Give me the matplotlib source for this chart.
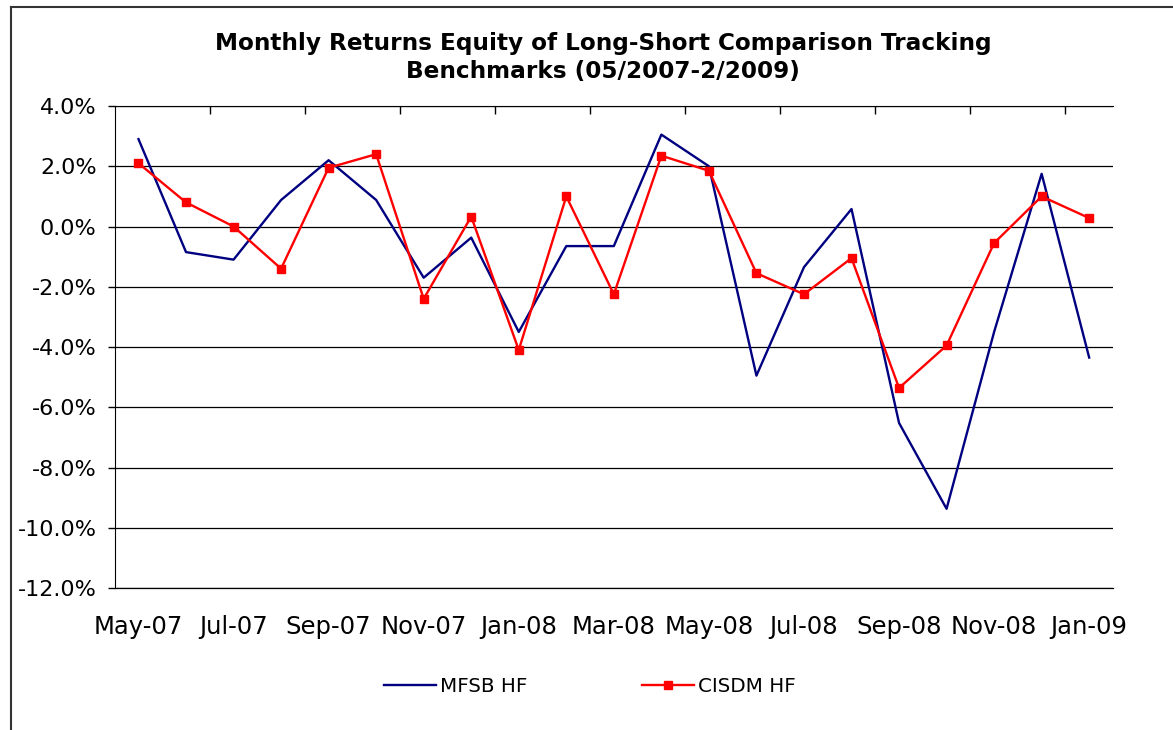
import matplotlib
matplotlib.use("Agg")
import matplotlib.pyplot as plt
from matplotlib.lines import Line2D

months = ["May-07", "Jun-07", "Jul-07", "Aug-07", "Sep-07", "Oct-07", "Nov-07",
          "Dec-07", "Jan-08", "Feb-08", "Mar-08", "Apr-08", "May-08", "Jun-08",
          "Jul-08", "Aug-08", "Sep-08", "Oct-08", "Nov-08", "Dec-08", "Jan-09"]

mfsb_hf = [2.9, -0.85, -1.1, 0.88, 2.2, 0.88, -1.7, -0.37, -3.5, -0.65, -0.65,
           3.05, 2.0, -4.95, -1.35, 0.58, -6.52, -9.37, -3.5, 1.75, -4.35]

cisdm_hf = [2.1, 0.8, 0.0, -1.4, 1.95, 2.4, -2.4, 0.33, -4.1, 1.0, -2.25,
            2.35, 1.85, -1.55, -2.25, -1.05, -5.36, -3.95, -0.55, 1.0, 0.28]

yticks = list(range(-12, 5, 2))
ytick_labels = [f"{v:.1f}%" for v in yticks]

fig = plt.figure(figsize=(11.73, 7.30), dpi=100)
ax = fig.add_axes([0.0978, 0.1945, 0.9488 - 0.0978, 0.8548 - 0.1945])

x = list(range(len(months)))
ax.plot(x, mfsb_hf, color="#000080", lw=1.7, label="MFSB HF", zorder=3)
ax.plot(x, cisdm_hf, color="#ff0000", lw=1.7, marker="s", markersize=6,
        label="CISDM HF", zorder=4)

ax.set_xlim(-0.5, len(months) - 0.5)
ax.set_ylim(-12, 4)

ax.set_yticks(yticks)
ax.set_yticklabels(ytick_labels, fontsize=16)
ax.tick_params(axis="y", length=5, width=1, pad=8, color="black")
ax.yaxis.grid(True, color="black", lw=0.9)
ax.set_axisbelow(True)
# the -12% gridline sits on the edge, draw it unclipped
ax.axhline(-12, color="black", lw=0.9, clip_on=False, zorder=1)

# category labels every 2 months at the bottom, tick marks at the top between categories
ax.set_xticks(x[::2])
ax.set_xticklabels(months[::2], fontsize=17.5)
ax.set_xticks([i - 0.5 for i in range(2, len(months), 2)], minor=True)
ax.tick_params(axis="x", which="major", bottom=False, top=False, pad=16)
ax.tick_params(axis="x", which="minor", bottom=False, top=True, direction="in",
               length=6, width=1, color="black")

for side in ["right", "bottom"]:
    ax.spines[side].set_visible(False)
ax.spines["left"].set_color("black")
ax.spines["top"].set_color("black")

fig.text(0.514, 0.921, "Monthly Returns Equity of Long-Short Comparison Tracking\n"
         "Benchmarks (05/2007-2/2009)", ha="center", va="center",
         fontsize=16.7, fontweight="bold", linespacing=1.3)

fig.legend(loc="center", bbox_to_anchor=(0.503, 0.059), ncol=2, frameon=False,
           fontsize=14.3, handlelength=2.6, handletextpad=0.2, columnspacing=5.8)

# chart border (left and top edges)
fig.add_artist(Line2D([11 / 1173, 11 / 1173], [0, 1 - 7 / 730],
                      transform=fig.transFigure, color="#333333", lw=1.5))
fig.add_artist(Line2D([11 / 1173, 1], [1 - 7 / 730, 1 - 7 / 730],
                      transform=fig.transFigure, color="#333333", lw=1.5))

fig.savefig("out.png", dpi=100)
